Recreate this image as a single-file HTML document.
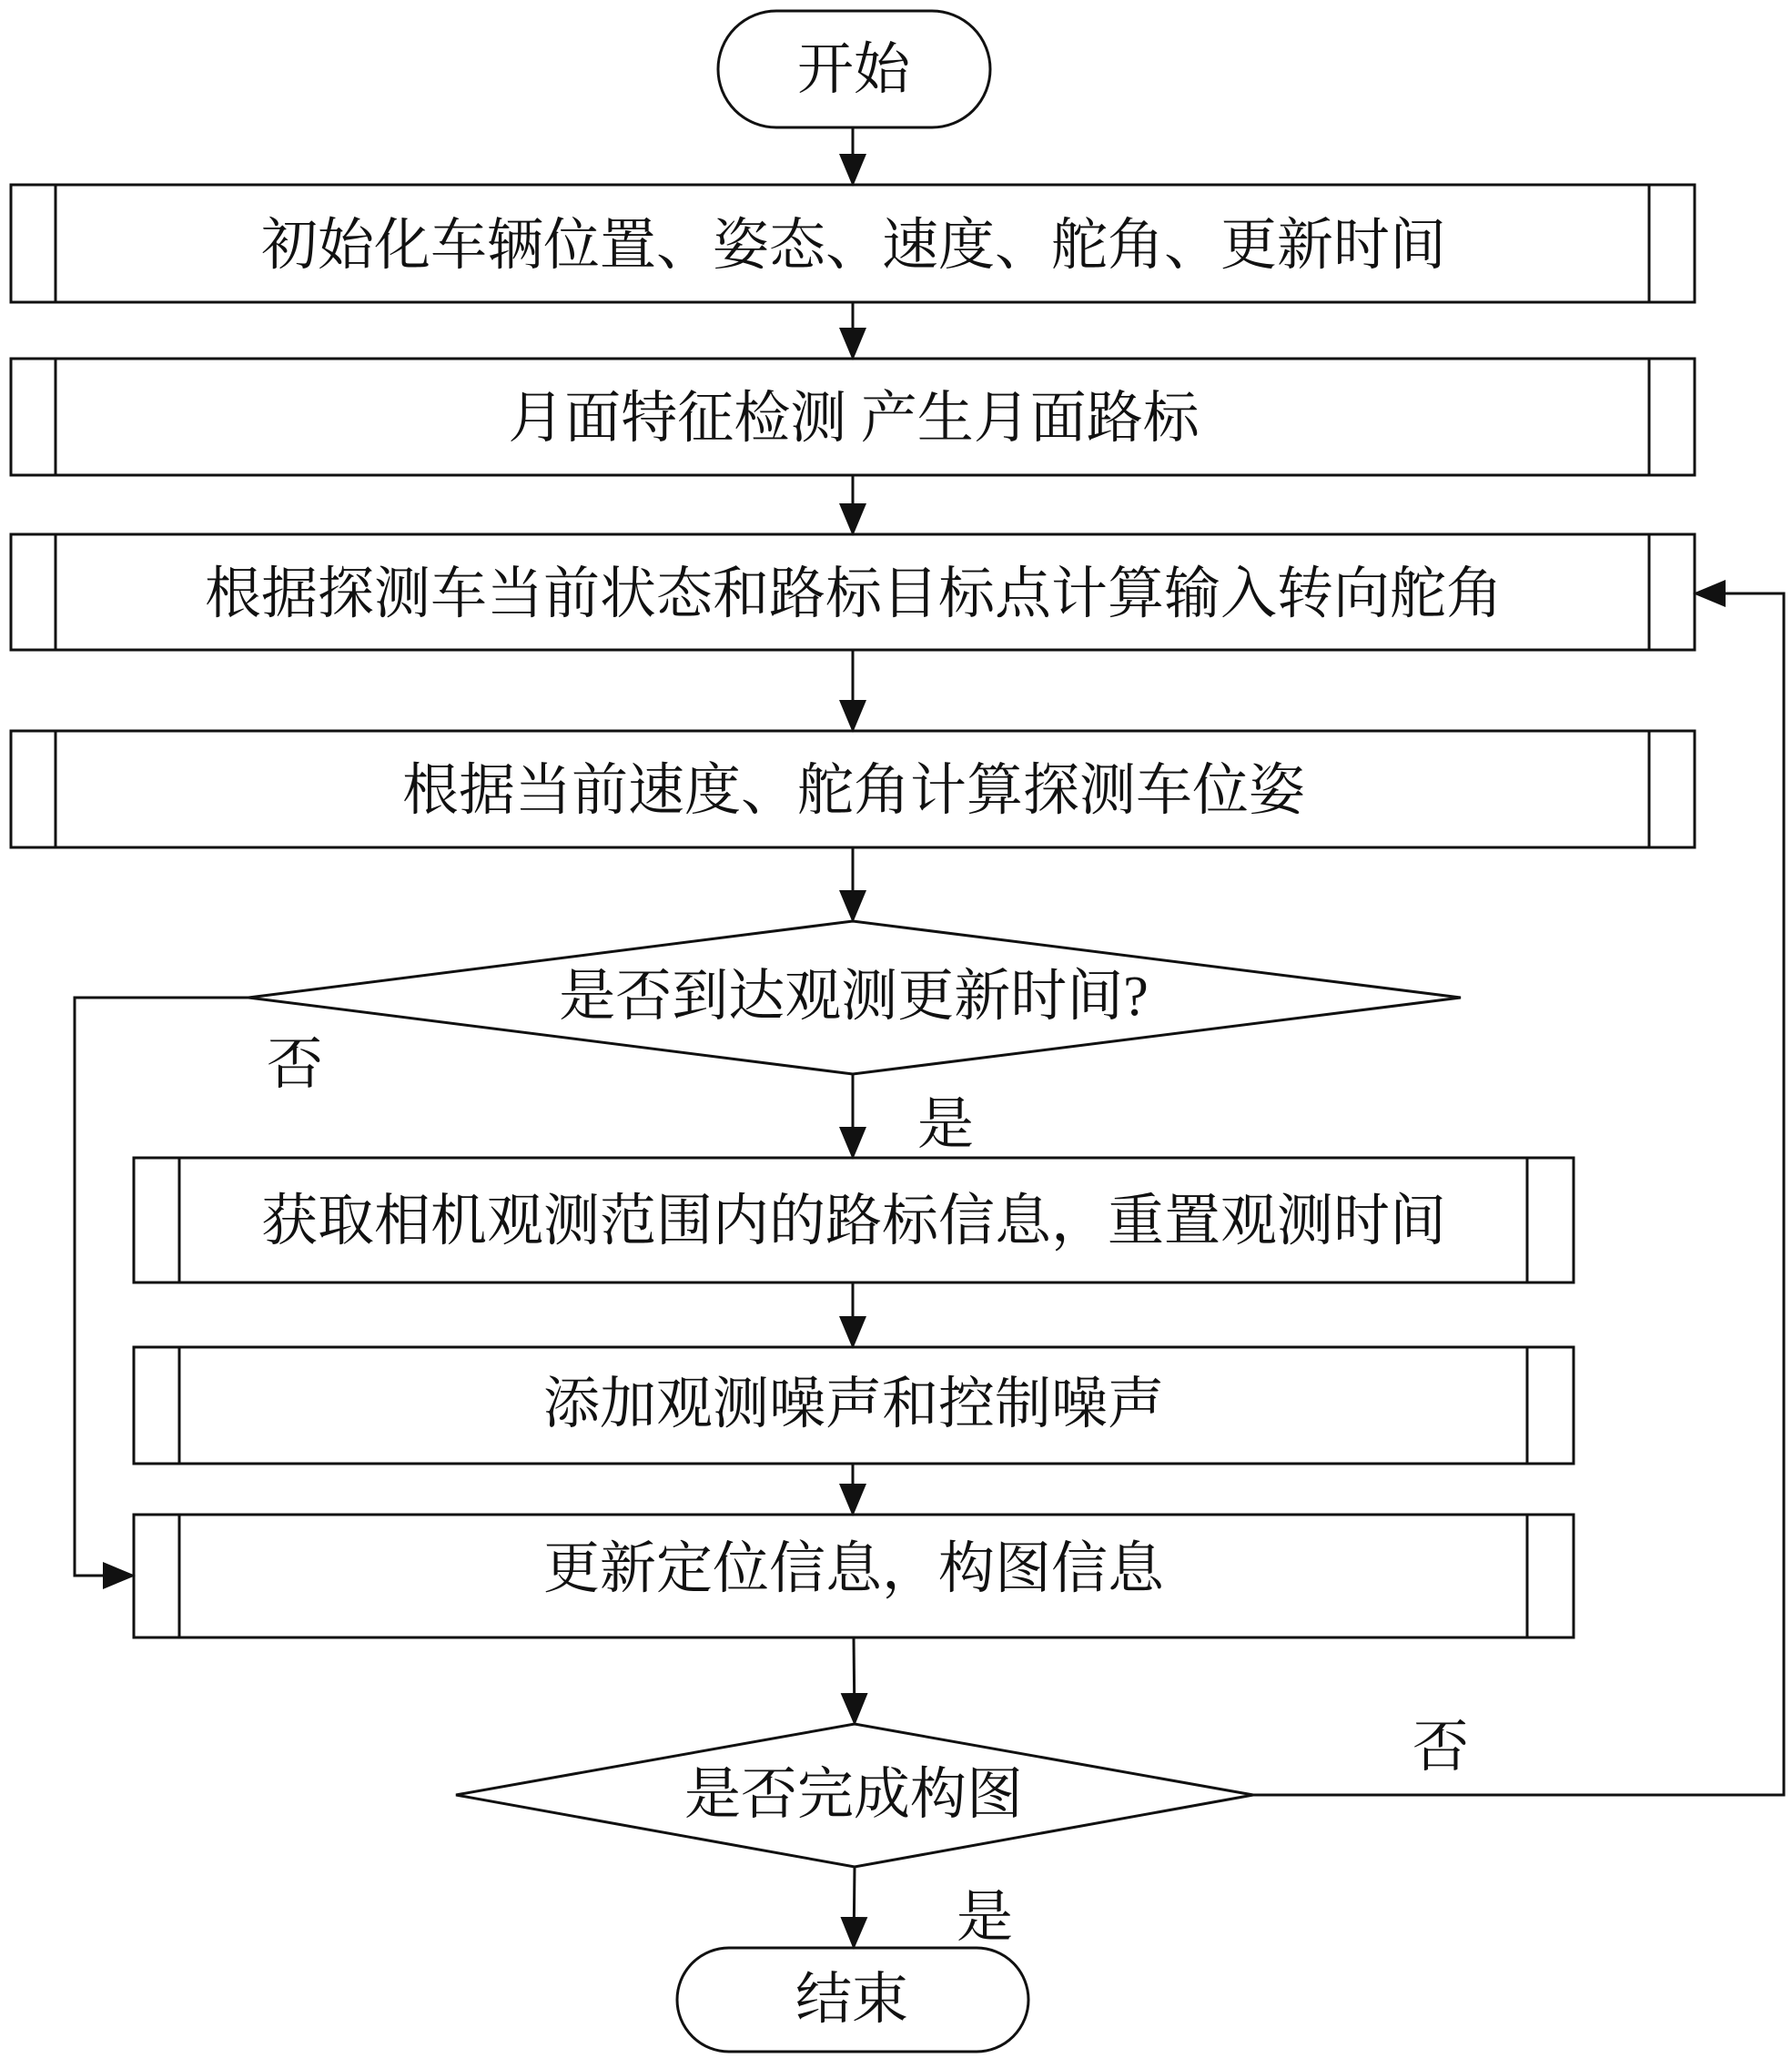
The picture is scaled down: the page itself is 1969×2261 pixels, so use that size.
<!DOCTYPE html>
<html><head><meta charset="utf-8"><style>
html,body{margin:0;padding:0;background:#fff}
svg text{font-family:"Liberation Serif","Noto Serif CJK SC",serif;fill:#111}
</style></head><body>
<svg width="1969" height="2256" viewBox="0 0 1969 2256" xmlns="http://www.w3.org/2000/svg">
<defs><marker id="a" markerWidth="12" markerHeight="12" refX="11" refY="6" orient="auto" markerUnits="userSpaceOnUse"><path d="M0,0 L12,6 L0,12 z" fill="#111"/></marker>
<marker id="b" markerWidth="36" markerHeight="30" refX="34" refY="15" orient="auto" markerUnits="userSpaceOnUse"><path d="M0,0 L36,15 L0,30 z" fill="#111"/></marker></defs>
<g fill="none" stroke="#111" stroke-width="3">
<rect x="789" y="12" width="299" height="128" rx="64"/>
<rect x="12" y="203" width="1850" height="129"/><line x1="61" y1="203" x2="61" y2="332"/><line x1="1812" y1="203" x2="1812" y2="332"/>
<rect x="12" y="394" width="1850" height="128"/><line x1="61" y1="394" x2="61" y2="522"/><line x1="1812" y1="394" x2="1812" y2="522"/>
<rect x="12" y="587" width="1850" height="127"/><line x1="61" y1="587" x2="61" y2="714"/><line x1="1812" y1="587" x2="1812" y2="714"/>
<rect x="12" y="803" width="1850" height="128"/><line x1="61" y1="803" x2="61" y2="931"/><line x1="1812" y1="803" x2="1812" y2="931"/>
<polygon points="273,1096 937,1012 1605,1096 937,1180"/>
<rect x="147" y="1272" width="1582" height="137"/><line x1="197" y1="1272" x2="197" y2="1409"/><line x1="1678" y1="1272" x2="1678" y2="1409"/>
<rect x="147" y="1480" width="1582" height="128"/><line x1="197" y1="1480" x2="197" y2="1608"/><line x1="1678" y1="1480" x2="1678" y2="1608"/>
<rect x="147" y="1664" width="1582" height="135"/><line x1="197" y1="1664" x2="197" y2="1799"/><line x1="1678" y1="1664" x2="1678" y2="1799"/>
<polygon points="501,1972 939,1894 1377,1972 939,2051"/>
<rect x="744" y="2140" width="386" height="114" rx="57"/>
</g>
<g stroke="#111" stroke-width="3" fill="none" marker-end="url(#b)">
<line x1="937" y1="140" x2="937" y2="203"/>
<line x1="937" y1="332" x2="937" y2="394"/>
<line x1="937" y1="522" x2="937" y2="587"/>
<line x1="937" y1="714" x2="937" y2="803"/>
<line x1="937" y1="931" x2="937" y2="1012"/>
<line x1="937" y1="1180" x2="937" y2="1272"/>
<line x1="937" y1="1409" x2="937" y2="1480"/>
<line x1="937" y1="1608" x2="937" y2="1664"/>
<line x1="938" y1="1799" x2="939" y2="1894"/>
<line x1="939" y1="2051" x2="938" y2="2140"/>
<polyline points="273,1096 82,1096 82,1731 147,1731"/>
<polyline points="1377,1972 1960,1972 1960,652 1862,652"/>
</g>
<g font-size="62" text-anchor="middle">
<text x="938" y="97">开始</text>
<text x="938" y="290">初始化车辆位置、姿态、速度、舵角、更新时间</text>
<text x="938" y="480">月面特征检测  产生月面路标</text>
<text x="938" y="673">根据探测车当前状态和路标目标点计算输入转向舵角</text>
<text x="938" y="889">根据当前速度、舵角计算探测车位姿</text>
<text x="938" y="1115">是否到达观测更新时间?</text>
<text x="938" y="1362">获取相机观测范围内的路标信息，重置观测时间</text>
<text x="938" y="1563">添加观测噪声和控制噪声</text>
<text x="938" y="1744">更新定位信息，构图信息</text>
<text x="938" y="1992">是否完成构图</text>
<text x="936" y="2217">结束</text>
<text x="324" y="1190">否</text>
<text x="1039" y="1256">是</text>
<text x="1583" y="1940">否</text>
<text x="1082" y="2127">是</text>
</g>
</svg>
</body></html>
